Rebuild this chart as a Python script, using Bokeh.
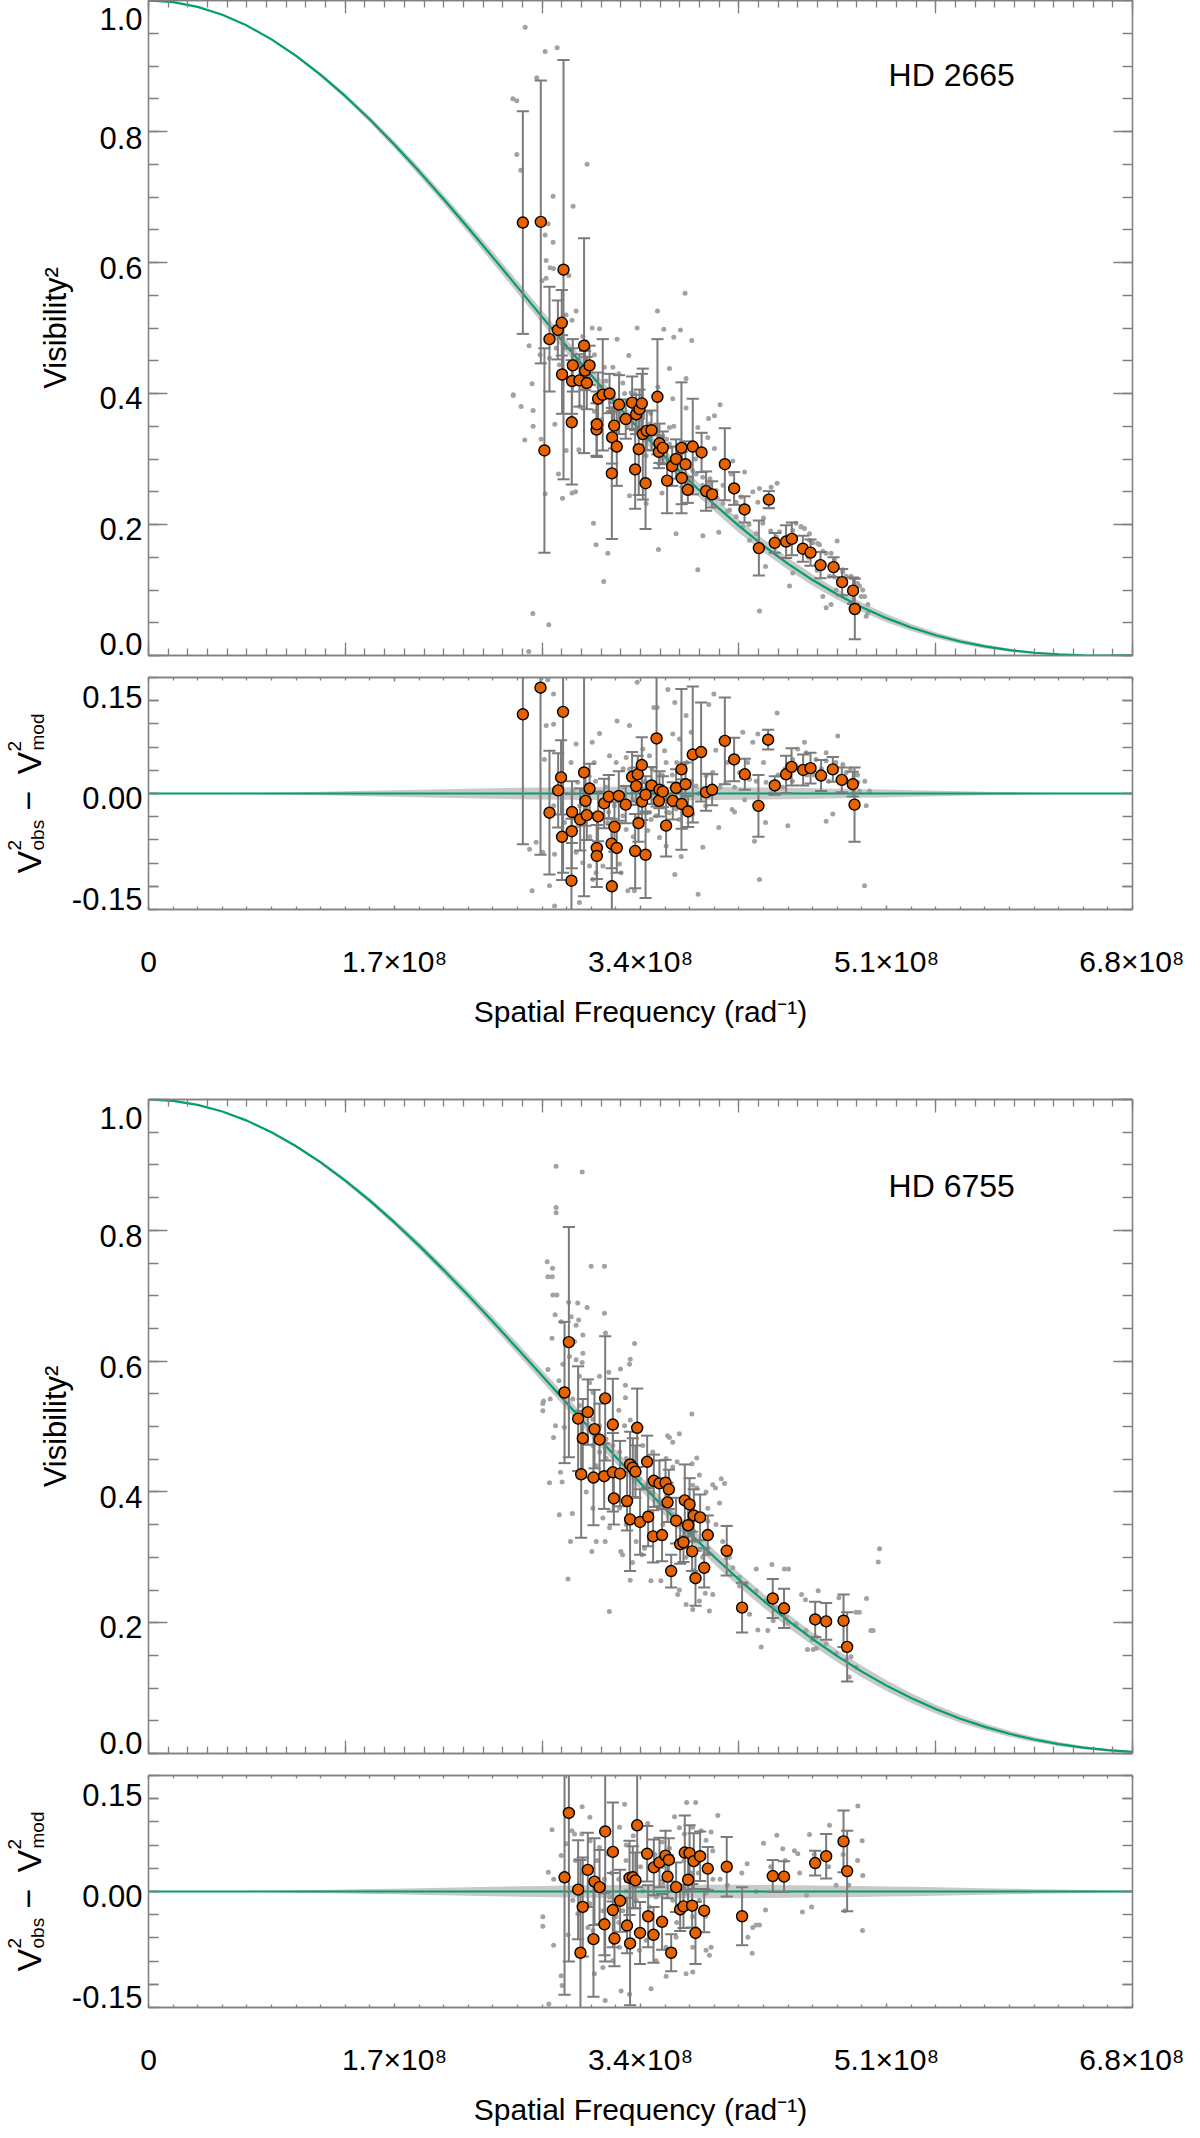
import math
from bokeh.plotting import figure
from bokeh.models import LinearAxis, FixedTicker, Range1d, Label
from bokeh.layouts import column, row
from bokeh.embed import file_html
from bokeh.resources import INLINE
from bokeh.core.properties import value

FONT = "Liberation Sans"
AXIS_GREY = "#808080"
ORANGE = "#E66100"
GREEN = "#009E73"
BAND_GREY = "#c9c9c9"
DOT_GREY = "#a2a2a2"
BAR_GREY = "#7b7b7b"

# ---------------- model curves (spatial frequency in units of 1e8 rad^-1) ----------------
SF_GRID = [0.0, 0.17, 0.34, 0.51, 0.68, 0.85, 1.02, 1.19, 1.36, 1.53, 1.70, 1.87, 2.04, 2.21,
           2.38, 2.55, 2.72, 2.89, 3.06, 3.23, 3.40, 3.57, 3.74, 3.91, 4.08, 4.25, 4.42, 4.59,
           4.76, 4.93, 5.10, 5.27, 5.44, 5.61, 5.78, 5.95, 6.12, 6.29, 6.46, 6.63, 6.80]

hd2665_model = [1.0, .99757, .99030, .97828, .96166, .94064, .91547, .88645, .85391, .81824,
                .77984, .73914, .69659, .65265, .60777, .56242, .51703, .47204, .42784, .38481,
                .34329, .30359, .26597, .23064, .19779, .16755, .14000, .11519, .09312, .07376,
                .05702, .04281, .03100, .02142, .01388, .00821, .00420, .00164, .00031, .00001,
                .00050]
hd2665_model_err = [0.0, .00007, .00026, .00058, .00102, .00156, .00220, .00291, .00368, .00450,
                    .00534, .00618, .00701, .00779, .00853, .00919, .00976, .01023, .01060, .01084,
                    .01096, .01096, .01083, .01059, .01022, .00975, .00919, .00854, .00783, .00707,
                    .00627, .00544, .00462, .00382, .00303, .00229, .00160, .00097, .00042, .00004,
                    .00007]

hd6755_model = [1.0, .99796, .99184, .98172, .96770, .94992, .92856, .90383, .87597, .84527,
                .81201, .77653, .73914, .70019, .66005, .61906, .57756, .53592, .49446, .45350,
                .41335, .37428, .33655, .30038, .26597, .23350, .20309, .17486, .14888, .12519,
                .10380, .08473, .06789, .05324, .04068, .03012, .02141, .01444, .00904, .00506,
                .00234]
hd6755_model_err = [0.0, .00006, .00022, .00049, .00086, .00132, .00187, .00249, .00316, .00389,
                    .00464, .00541, .00618, .00694, .00767, .00835, .00898, .00954, .01001, .01040,
                    .01069, .01089, .01098, .01096, .01083, .01061, .01029, .00988, .00939, .00882,
                    .00819, .00751, .00680, .00606, .00531, .00455, .00381, .00309, .00241, .00176,
                    .00119]

# ---------------- HD 2665 : binned points ----------------
hd2665_freq = [2.587, 2.711, 2.736, 2.771, 2.829, 2.856, 2.858, 2.868, 2.925, 2.927,
               2.932, 2.978, 3.010, 3.017, 3.029, 3.048, 3.096, 3.098, 3.107, 3.139,
               3.186, 3.202, 3.204, 3.218, 3.236, 3.252, 3.298, 3.342, 3.363, 3.370,
               3.388, 3.393, 3.409, 3.416, 3.435, 3.443, 3.476, 3.517, 3.527, 3.531,
               3.554, 3.584, 3.619, 3.646, 3.683, 3.685, 3.711, 3.727, 3.761, 3.822,
               3.853, 3.895, 3.983, 4.047, 4.119, 4.218, 4.287, 4.328, 4.406, 4.446,
               4.522, 4.575, 4.644, 4.734, 4.793, 4.869, 4.881]
hd2665_v2 = [.661, .662, .313, .483, .497, .508, .429, .589, .356, .419,
             .443, .420, .473, .435, .416, .443, .345, .353, .392, .398,
             .400, .278, .333, .351, .319, .383, .361, .386, .284, .368,
             .315, .376, .385, .338, .263, .343, .344, .395, .311, .324,
             .317, .267, .289, .300, .317, .271, .292, .253, .319, .310,
             .251, .246, .292, .255, .223, .164, .238, .172, .174, .178,
             .163, .157, .138, .135, .112, .099, .071]
hd2665_err = [.170, .216, .156, .080, .045, .050, .060, .320, .095, .050,
              .040, .040, .164, .030, .040, .030, .040, .050, .040, .085,
              .030, .100, .040, .035, .060, .045, .030, .040, .060, .030,
              .070, .030, .045, .100, .070, .030, .030, .088, .025, .030,
              .025, .050, .030, .030, .100, .040, .035, .020, .073, .030,
              .030, .020, .055, .025, .020, .042, .013, .015, .025, .025,
              .020, .020, .020, .015, .020, .020, .046]

hd2665_res_freq = [2.587, 2.709, 2.771, 2.831, 2.851, 2.858, 2.865, 2.923, 2.925, 2.927,
                   2.983, 3.010, 3.020, 3.029, 3.048, 3.098, 3.098, 3.107, 3.149, 3.181,
                   3.200, 3.202, 3.220, 3.236, 3.250, 3.298, 3.342, 3.363, 3.370, 3.381,
                   3.386, 3.409, 3.411, 3.435, 3.435, 3.476, 3.511, 3.527, 3.531, 3.554,
                   3.577, 3.623, 3.646, 3.683, 3.685, 3.711, 3.729, 3.761, 3.819, 3.853,
                   3.895, 3.983, 4.047, 4.121, 4.215, 4.282, 4.328, 4.406, 4.444, 4.524,
                   4.575, 4.648, 4.729, 4.791, 4.867, 4.879]
hd2665_res = [.128, .171, -.031, .005, .026, -.070, .132, -.141, -.061, -.030,
              -.042, .034, -.012, -.035, .008, -.088, -.101, -.037, -.016, -.005,
              -.081, -.150, -.054, -.088, -.004, -.018, .027, -.093, .012, .031,
              -.048, .046, -.013, -.002, -.099, .013, .089, -.012, .006, .003,
              -.052, -.012, .009, .039, -.017, .015, -.029, .063, .067, .002,
              .006, .085, .055, .031, -.020, .087, .013, .031, .043, .038,
              .041, .029, .039, .022, .015, -.018]
hd2665_res_err = [.21, .27, .10, .06, .06, .07, .26, .10, .06, .05,
                  .05, .20, .04, .04, .04, .05, .05, .04, .04, .035,
                  .04, .10, .04, .04, .04, .03, .04, .06, .03, .03,
                  .03, .045, .03, .03, .07, .03, .11, .025, .03, .025,
                  .05, .03, .03, .13, .04, .035, .025, .11, .08, .03,
                  .025, .07, .035, .025, .05, .016, .015, .03, .03, .025,
                  .025, .025, .02, .02, .02, .06]

# ---------------- HD 2665 : individual channels (grey dots) ----------------
hd2665_raw_freq = [2.603, 2.741, 2.824, 2.683, 2.518, 2.545, 2.545, 2.573, 3.031, 2.796,
                   2.934, 2.762, 2.741, 2.796, 2.748, 2.775, 2.799, 2.748, 2.720, 2.905,
                   3.708, 2.955, 3.517, 3.676, 3.561, 3.630, 3.754, 3.377, 3.238, 3.066,
                   3.117, 2.630, 3.319, 3.600, 3.715, 3.950, 3.911, 3.870, 3.911, 3.209,
                   3.278, 3.623, 3.600, 3.715, 2.651, 2.520, 2.575, 2.658, 2.658, 2.600,
                   2.713, 2.808, 2.886, 2.974, 2.833, 2.927, 2.951, 2.861, 2.741, 3.324,
                   3.439, 3.549, 2.771, 2.817, 2.706, 2.840, 2.886, 2.927, 3.001, 3.024,
                   3.082, 3.082, 3.070, 3.162, 3.186, 3.335, 3.416, 3.473, 3.439, 3.589,
                   3.761, 3.796, 3.865, 4.038, 4.061, 4.119, 4.344, 4.303, 4.222, 4.026,
                   3.941, 3.831, 3.796, 3.646, 3.524, 4.510, 4.533, 4.759, 4.717, 4.660,
                   4.591, 4.452, 4.430, 4.683, 4.717, 4.960, 4.971, 4.936, 4.925, 4.222,
                   4.264, 4.337, 4.361, 4.798, 4.821, 4.855, 4.061, 4.095, 4.176, 4.211,
                   4.475, 4.568, 4.637, 2.656, 2.766, 2.628, 3.093, 3.174, 3.146, 3.075,
                   2.521, 3.05, 3.12, 3.15, 3.22, 3.27, 3.31, 3.36, 3.40, 3.45,
                   3.50, 3.55, 3.58, 3.66, 3.69, 3.74, 3.78, 3.83, 3.88, 3.93,
                   3.97, 2.88, 2.96, 3.00, 2.98, 3.13, 3.25, 3.29, 3.47, 3.52,
                   3.63, 4.15, 4.25, 4.40, 4.56, 4.62, 4.74, 4.85, 4.90, 4.30,
                   4.00,
                   4.337, 4.452, 4.510, 4.568, 4.625, 4.683, 4.741, 4.798, 4.855, 4.913,
                   4.948, 4.971, 4.706, 4.752, 4.660, 4.245, 4.199, 4.153, 4.107, 4.061,
                   4.015, 3.969, 3.923, 3.877, 3.830, 3.784, 3.739, 3.692, 3.646, 3.600,
                   3.554, 3.508, 3.462, 3.416]
hd2665_raw_v2 = [.959, .922, .928, .882, .850, .847, .765, .741, .750, .701,
                 .686, .659, .642, .631, .603, .592, .591, .576, .572, .580,
                 .553, .526, .526, .497, .498, .486, .481, .500, .483, .500,
                 .499, .473, .458, .438, .423, .383, .366, .362, .316, .440,
                 .416, .392, .348, .378, .415, .397, .380, .374, .350, .329,
                 .330, .353, .313, .314, .277, .248, .250, .240, .247, .244,
                 .232, .248, .454, .469, .459, .444, .520, .512, .487, .479,
                 .459, .373, .356, .419, .398, .401, .368, .338, .305, .300,
                 .282, .348, .333, .297, .257, .280, .263, .257, .255, .277,
                 .188, .183, .131, .186, .162, .196, .194, .175, .156, .159,
                 .172, .126, .106, .073, .078, .060, .078, .100, .090, .068,
                 .136, .181, .189, .128, .121, .103, .234, .242, .250, .234,
                 .202, .176, .169, .064, .047, .006, .169, .156, .113, .202,
                 .398, .43, .41, .44, .39, .37, .35, .40, .36, .33,
                 .35, .30, .33, .28, .31, .27, .30, .26, .27, .24,
                 .26, .47, .45, .41, .38, .36, .43, .40, .37, .41,
                 .35, .20, .21, .17, .15, .13, .12, .08, .11, .19,
                 .22,
                 .181, .191, .197, .186, .171, .156, .146, .131, .121, .106,
                 .090, .065, .121, .100, .090, .202, .186, .176, .197, .212,
                 .222, .232, .252, .262, .272, .277, .287, .297, .303, .323,
                 .333, .343, .353, .363]

hd2665_rawres_freq = [2.759, 2.799, 2.748, 2.799, 2.736, 2.955, 3.066, 3.117, 3.238, 3.324,
                      3.377, 3.492, 3.515, 3.589, 3.637, 3.623, 3.715, 3.872, 3.907, 4.107,
                      4.176, 4.211, 4.344, 4.763, 4.533, 4.487, 4.683, 4.798, 4.983, 4.960,
                      4.729, 4.683, 4.418, 4.264, 4.188, 4.222, 4.948, 4.033, 3.941, 3.831,
                      3.798, 3.681, 3.637, 3.531, 3.577, 3.358, 3.312, 3.255, 3.266, 3.048,
                      3.070, 2.978, 2.806, 2.651, 2.771, 2.633, 2.725, 2.679, 2.806, 2.875,
                      2.944, 2.967, 2.932, 2.967, 3.070, 3.117, 3.140, 3.174, 3.278, 3.301,
                      3.439, 3.473, 3.508, 3.600, 3.646, 3.669, 3.761, 3.784, 3.853, 3.899,
                      3.991, 4.084, 4.153, 4.268, 4.383, 4.452, 4.544, 4.613, 4.683, 4.821,
                      4.902, 4.913, 3.186, 3.232, 3.301, 3.324, 3.416, 3.462, 3.566, 3.577,
                      3.669, 3.750, 2.955, 3.001, 3.093, 3.140, 3.02, 3.09, 3.16, 3.22,
                      3.28, 3.36, 3.43, 3.50, 3.56, 3.62, 3.70, 3.80, 3.85, 3.95,
                      4.00, 4.25, 4.40, 4.60, 4.80, 4.90, 2.85, 2.90, 2.80, 3.05,
                      3.20, 3.35, 3.45, 3.55, 3.72, 3.92,
                      4.05, 4.12, 4.20, 4.30, 4.35, 4.45, 4.50, 4.55, 4.65, 4.70,
                      4.75, 4.85, 4.95, 4.05, 4.14, 3.75, 3.65, 3.58, 3.48, 3.38,
                      3.28, 3.18, 3.08, 2.98, 2.92]
hd2665_rawres = [.184, .161, .110, .112, .055, .080, .083, .097, .117, .110,
                 .180, .139, .139, .168, .147, .096, .126, .144, .161, .099,
                 .083, .096, .130, .093, .083, .072, .053, .047, .004, -.020,
                 -.033, -.045, -.052, -.047, -.077, -.139, -.149, -.026, -.055, -.087,
                 -.163, -.102, -.131, -.071, -.085, -.157, -.157, -.114, -.128, -.117,
                 -.139, -.176, -.182, -.157, -.149, -.090, -.095, -.079, -.098, -.047,
                 -.031, -.052, .004, .018, .012, .002, -.036, -.047, -.036, -.058,
                 -.031, -.042, -.036, -.031, -.025, -.042, -.033, .012, .029, .034,
                 .018, .034, .023, .018, .010, .055, .066, .055, .066, .034,
                 .018, .004, .061, .050, .058, .039, .072, .061, .069, .050,
                 .088, .099, -.095, -.112, -.128, -.117, -.01, .02, .01, -.02,
                 .01, -.01, .02, .00, -.01, .03, -.01, .00, -.02, .01,
                 .05, .05, .04, .03, .02, .03, .03, -.06, -.02, -.07,
                 -.09, -.07, -.06, .03, .05, .07,
                 .01, -.01, .02, .00, .03, .02, .04, .03, .04, .02,
                 .05, .04, .02, -.03, .05, .02, .05, -.03, .04, -.04,
                 .04, -.03, .05, -.02, .05]

# ---------------- HD 6755 : binned points ----------------
hd6755_freq = [2.875, 2.905, 2.969, 2.990, 3.001, 3.036, 3.075, 3.082, 3.117, 3.149,
               3.156, 3.209, 3.209, 3.216, 3.259, 3.307, 3.328, 3.328, 3.347, 3.365,
               3.377, 3.397, 3.446, 3.453, 3.487, 3.492, 3.531, 3.549, 3.573, 3.587,
               3.596, 3.612, 3.646, 3.674, 3.697, 3.706, 3.729, 3.739, 3.757, 3.768,
               3.780, 3.812, 3.840, 3.865, 3.996, 4.102, 4.314, 4.392, 4.607, 4.683,
               4.803, 4.828]
hd6755_v2 = [.552, .629, .512, .427, .482, .522, .422, .496, .480, .424,
             .543, .430, .503, .390, .428, .386, .442, .358, .437, .431,
             .498, .354, .446, .362, .332, .417, .413, .334, .414, .384,
             .404, .279, .356, .320, .323, .387, .349, .381, .309, .364,
             .268, .361, .284, .334, .310, .223, .237, .222, .205, .202,
             .203, .163]
hd6755_err = [.108, .176, .080, .097, .060, .050, .073, .060, .055, .050,
              .095, .060, .070, .040, .050, .045, .050, .079, .045, .040,
              .060, .050, .040, .045, .040, .040, .035, .040, .035, .030,
              .030, .025, .035, .030, .030, .055, .035, .040, .030, .040,
              .042, .035, .030, .030, .038, .038, .030, .030, .027, .028,
              .040, .053]

hd6755_res_freq = [2.875, 2.905, 2.969, 2.985, 3.001, 3.036, 3.075, 3.082, 3.117, 3.151,
                   3.156, 3.209, 3.209, 3.220, 3.259, 3.307, 3.324, 3.328, 3.347, 3.365,
                   3.377, 3.397, 3.446, 3.453, 3.490, 3.492, 3.531, 3.549, 3.573, 3.587,
                   3.596, 3.612, 3.646, 3.674, 3.697, 3.706, 3.729, 3.739, 3.757, 3.768,
                   3.780, 3.812, 3.840, 3.865, 3.996, 4.102, 4.314, 4.392, 4.607, 4.683,
                   4.803, 4.828]
hd6755_res = [.023, .127, .003, -.099, -.025, .035, -.077, .016, .007, -.053,
              .097, -.030, .064, -.076, -.015, -.055, .022, -.084, .023, .018,
              .107, -.067, .061, -.040, -.070, .039, .047, -.049, .058, .024,
              .051, -.099, .007, -.029, -.024, .063, .019, .062, -.023, .049,
              -.067, .057, -.031, .037, .040, -.040, .025, .024, .046, .057,
              .081, .033]
hd6755_res_err = [.19, .24, .08, .15, .08, .06, .093, .07, .06, .05,
                  .21, .06, .08, .045, .05, .045, .06, .10, .05, .045,
                  .10, .05, .045, .05, .045, .045, .04, .045, .04, .035,
                  .035, .03, .04, .035, .035, .06, .04, .045, .035, .045,
                  .05, .04, .035, .035, .048, .047, .026, .025, .02, .036,
                  .05, .065]

# ---------------- HD 6755 : individual channels (grey dots) ----------------
hd6755_raw_freq = [2.817, 2.997, 2.817, 2.817, 2.755, 2.792, 2.760, 2.790, 3.059, 3.151,
                   2.794, 2.822, 2.904, 2.966, 3.031, 3.151, 2.810, 2.852, 2.921, 2.788,
                   3.002, 3.002, 2.997, 2.944, 2.955, 2.973, 3.359, 3.329, 3.324, 3.262,
                   3.181, 3.158, 2.760, 2.836, 2.725, 2.725, 3.296, 3.296, 3.250, 3.329,
                   3.290, 2.813, 2.799, 2.874, 3.755, 3.587, 3.669, 3.600, 3.789, 3.757,
                   3.653, 3.623, 2.847, 2.771, 2.858, 2.839, 2.929, 2.916, 2.899, 3.064,
                   3.156, 3.094, 3.185, 3.264, 3.276, 3.329, 3.345, 3.410, 3.472, 3.541,
                   3.657, 3.669, 3.715, 3.761, 3.807, 3.848, 3.899, 3.876, 3.958, 3.981,
                   3.946, 3.918, 3.865, 3.865, 3.761, 3.789, 4.085, 4.200, 4.308, 4.395,
                   4.423, 4.154, 4.211, 4.280, 4.234, 4.317, 4.421, 4.513, 4.540, 4.628,
                   4.771, 4.962, 4.586, 4.554, 4.593, 4.616, 4.809, 4.855, 4.843, 4.992,
                   5.008, 5.052, 5.043, 4.889, 4.912, 2.730, 2.776, 2.833, 2.909, 2.955,
                   2.863, 2.978, 3.048, 3.071, 3.117, 3.071, 3.117, 3.163, 3.094, 3.025,
                   3.071, 3.140, 3.186, 3.255, 3.301, 3.370, 3.428, 3.416, 3.485, 3.577,
                   3.623, 3.462, 3.531, 3.600, 3.554, 3.669, 3.715, 3.761, 3.830, 3.807,
                   3.899, 3.853, 3.922, 3.968, 4.014,
                   3.992, 4.038, 4.084, 4.130, 4.199, 4.268, 4.337, 4.406, 4.475, 4.544,
                   4.614, 4.683, 4.752, 4.821, 4.890, 3.761, 3.808, 3.853, 3.670, 3.623,
                   3.577, 3.485, 3.439, 3.393, 3.347, 3.301, 3.255, 3.209, 3.162, 3.117,
                   3.070, 3.024, 2.978, 2.932]
hd6755_raw_v2 = [.898, .889, .835, .827, .752, .742, .729, .729, .745, .745,
                 .701, .701, .690, .689, .682, .673, .671, .660, .668, .635,
                 .640, .612, .598, .630, .655, .663, .627, .603, .595, .588,
                 .583, .643, .587, .570, .535, .524, .563, .544, .525, .510,
                 .501, .501, .483, .499, .519, .486, .489, .483, .452, .443,
                 .446, .438, .430, .414, .415, .365, .367, .324, .267, .309,
                 .324, .324, .217, .309, .304, .265, .292, .304, .264, .264,
                 .243, .250, .228, .220, .233, .245, .243, .218, .420, .413,
                 .383, .406, .375, .355, .410, .406, .256, .282, .289, .282,
                 .282, .213, .189, .188, .163, .203, .200, .243, .235, .249,
                 .238, .237, .174, .159, .159, .161, .158, .148, .117, .188,
                 .188, .313, .293, .216, .216, .539, .542, .552, .607, .602,
                 .595, .577, .567, .552, .577, .471, .461, .451, .440, .400,
                 .375, .360, .345, .375, .350, .324, .314, .471, .461, .451,
                 .476, .400, .385, .370, .350, .320, .300, .280, .300, .426,
                 .411, .400, .350, .324, .300,
                 .299, .284, .269, .259, .249, .234, .223, .208, .198, .188,
                 .178, .168, .153, .143, .132, .340, .324, .309, .350, .365,
                 .380, .400, .410, .420, .431, .451, .461, .471, .481, .501,
                 .511, .522, .532, .542]

hd6755_rawres_freq = [2.997, 3.290, 3.781, 3.719, 2.789, 2.927, 2.994, 3.052, 3.255, 3.301,
                      3.174, 3.117, 3.635, 3.669, 3.704, 3.761, 3.819, 3.888, 3.934, 3.853,
                      3.899, 4.137, 4.250, 4.342, 4.383, 4.464, 4.487, 4.568, 4.706, 4.902,
                      4.932, 4.752, 4.839, 4.936, 4.547, 4.519, 4.582, 4.812, 4.934, 4.264,
                      4.176, 4.199, 4.222, 4.142, 4.172, 3.876, 3.853, 3.888, 3.715, 3.761,
                      3.577, 3.508, 3.473, 3.324, 3.266, 3.156, 3.082, 2.852, 2.858, 2.799,
                      2.725, 2.725, 2.767, 2.763, 2.852, 2.886, 2.944, 2.932, 2.967, 3.036,
                      3.071, 3.140, 3.186, 3.232, 3.278, 3.301, 3.370, 3.416, 3.462, 3.508,
                      3.554, 3.623, 3.669, 3.715, 3.761, 3.807, 3.853, 3.393, 3.439, 3.577,
                      3.646, 3.761, 3.209, 3.255, 3.140, 3.00, 3.10, 3.20, 3.30, 3.40,
                      3.50, 3.60, 3.70, 3.80, 3.90, 3.05, 3.35, 3.45, 3.55, 3.25,
                      3.60,
                      4.00, 4.10, 4.20, 4.30, 4.40, 4.50, 4.60, 4.70, 4.80, 4.90,
                      3.05, 3.15, 3.25, 3.35, 3.45, 3.55, 3.65, 3.75, 3.85, 3.95,
                      2.95, 2.90, 2.80]
hd6755_rawres = [.137, .141, .144, .144, .100, .098, .093, .082, .104, .075,
                 .061, .071, .121, .103, .093, .104, .098, .096, .123, .083,
                 .066, .045, .078, .091, .069, .066, .061, .092, .107, .138,
                 .082, .010, .010, .026, -.006, -.033, -.025, -.031, -.063, -.030,
                 -.058, -.054, -.054, -.074, -.100, -.103, -.095, -.090, -.133, -.130,
                 -.137, -.112, -.157, -.166, -.161, -.176, -.133, -.136, -.152, -.087,
                 -.041, -.056, -.182, .031, .058, .077, .093, -.014, -.036, -.058,
                 -.063, -.031, -.009, -.041, -.031, .001, -.014, .001, -.025, -.009,
                 .012, -.014, -.031, -.003, -.041, -.014, -.003, -.095, -.079, -.090,
                 -.074, -.090, -.112, -.090, -.123, .03, .05, .03, .05, .04,
                 .06, .03, .05, .03, .02, .12, .09, .11, .08, .02,
                 .07,
                 .01, .03, .00, .04, .05, .03, .06, .04, .06, .05,
                 -.02, .02, -.05, .03, -.04, .04, -.05, .03, -.04, .02,
                 .05, -.07, .02]

# ---------------- axes / ticks ----------------
X_START, X_END = 0.0, 6.8
TOP_MAJOR_X = [0.0, 1.36, 2.72, 4.08, 5.44, 6.8]
TOP_MINOR_X = [round(i * 0.136, 4) for i in range(51)]
RES_MAJOR_X = [0.0, 1.7, 3.4, 5.1, 6.8]
RES_MINOR_X = [round(i * 0.17, 4) for i in range(41)]
X_TICK_TEXT = ["0", "1.7×10⁸", "3.4×10⁸", "5.1×10⁸", "6.8×10⁸"]
TOP_MAJOR_Y = [0.0, 0.2, 0.4, 0.6, 0.8, 1.0]
TOP_MINOR_Y = [round(i * 0.05, 3) for i in range(21)]
TOP_LABEL_POS = [0.0168, 0.1928, 0.3924, 0.5916, 0.7908, 0.9715]
TOP_LABEL_TEXT = ["0.0", "0.2", "0.4", "0.6", "0.8", "1.0"]
RES_LIMIT = 0.1875
RES_FRAME_H = 232
RES_MAJOR_Y = [-0.15, 0.0, 0.15]
RES_MINOR_Y = [round(-0.1875 + i * 0.0375, 4) for i in range(11)]
RES_LABEL_POS = [-0.1699, -0.0065, 0.1561]
RES_LABEL_TEXT = ["-0.15", "0.00", "0.15"]
CAP_HALF = 0.042

STAR_LABEL_X = 5.114
TITLE_W = 50
# residual-panel title pieces: text, x of baseline (px in title strip),
# start above the frame bottom (px), font size
RES_TITLE_PIECES = [("V", 28, 36, "34px"), ("2", 14, 59, "19px"), ("obs", 37, 59, "19px"),
                    ("−", 28, 99, "34px"), ("V", 28, 135, "34px"), ("2", 14, 158, "19px"),
                    ("mod", 37, 159, "19px")]


def base_fig(frame_h, y0, y1, top, bottom, left=148):
    p = figure(frame_width=984, frame_height=frame_h,
               x_range=Range1d(X_START, X_END), y_range=Range1d(y0, y1),
               x_axis_location=None, y_axis_location=None,
               output_backend="svg", toolbar_location=None,
               min_border_left=left, min_border_right=52,
               min_border_top=top, min_border_bottom=bottom,
               background_fill_color="white", border_fill_color="white")
    p.grid.visible = False
    p.outline_line_color = AXIS_GREY
    p.outline_line_width = 1.3
    return p


def style_ticks(ax, tin, tmin):
    ax.major_tick_in = tin
    ax.major_tick_out = 0
    ax.minor_tick_in = tmin
    ax.minor_tick_out = 0
    ax.major_tick_line_color = AXIS_GREY
    ax.minor_tick_line_color = AXIS_GREY
    ax.major_tick_line_width = 1.3
    ax.minor_tick_line_width = 1.3
    ax.axis_line_color = AXIS_GREY
    ax.axis_line_width = 1.3


def tick_axis(major, minor, tin, tmin):
    ax = LinearAxis(ticker=FixedTicker(ticks=major, minor_ticks=minor))
    style_ticks(ax, tin, tmin)
    ax.major_label_overrides = {t: "" for t in major}
    ax.major_label_text_font_size = "0px"
    ax.major_label_standoff = 0
    return ax


def label_axis(pos, texts, standoff, title=None):
    ax = LinearAxis(ticker=FixedTicker(ticks=pos, minor_ticks=[]))
    ax.major_label_overrides = dict(zip(pos, texts))
    ax.major_tick_in = 0
    ax.major_tick_out = 0
    ax.minor_tick_in = 0
    ax.minor_tick_out = 0
    ax.major_tick_line_color = None
    ax.minor_tick_line_color = None
    ax.axis_line_color = None
    ax.major_label_standoff = standoff
    ax.major_label_text_font = FONT
    ax.major_label_text_font_size = "31px"
    ax.major_label_text_color = "black"
    if title:
        ax.axis_label = title
        ax.axis_label_text_font = FONT
        ax.axis_label_text_font_size = "31px"
        ax.axis_label_text_font_style = "normal"
        ax.axis_label_text_color = "black"
        ax.axis_label_standoff = 23
    return ax


def paired(a, b):
    n = min(len(a), len(b))
    return list(a[:n]), list(b[:n])


def add_errbars(p, f, v, e):
    lo = [a - b for a, b in zip(v, e)]
    hi = [a + b for a, b in zip(v, e)]
    left = [x - CAP_HALF for x in f]
    right = [x + CAP_HALF for x in f]
    kw = dict(line_color=BAR_GREY, line_width=2)
    p.segment(x0=f, y0=lo, x1=f, y1=hi, **kw)
    p.segment(x0=left, y0=hi, x1=right, y1=hi, **kw)
    p.segment(x0=left, y0=lo, x1=right, y1=lo, **kw)


def top_panel(frame_h, border_top, freq, v2, err, raw_f, raw_v, model, model_err, star, star_y):
    p = base_fig(frame_h, 0.0, 1.0, border_top, 11)
    p.add_layout(tick_axis(TOP_MAJOR_X, TOP_MINOR_X, 13, 7), "below")
    p.add_layout(tick_axis(TOP_MAJOR_X, TOP_MINOR_X, 13, 7), "above")
    p.add_layout(tick_axis(TOP_MAJOR_Y, TOP_MINOR_Y, 19, 10), "left")
    p.add_layout(label_axis(TOP_LABEL_POS, TOP_LABEL_TEXT, 6, "Visibility²"), "left")
    p.add_layout(tick_axis(TOP_MAJOR_Y, TOP_MINOR_Y, 19, 10), "right")

    lo = [m - e for m, e in zip(model, model_err)]
    hi = [m + e for m, e in zip(model, model_err)]
    p.varea(x=SF_GRID, y1=lo, y2=hi, fill_color=BAND_GREY)
    rf, rv = paired(raw_f, raw_v)
    p.scatter(rf, rv, size=5, fill_color=DOT_GREY, line_color=None)
    p.line(SF_GRID, model, line_color=GREEN, line_width=2.2)
    add_errbars(p, freq, v2, err)
    p.scatter(freq, v2, size=11, fill_color=ORANGE, line_color="black", line_width=1.4)
    p.add_layout(Label(x=STAR_LABEL_X, y=star_y, text=star, text_font=FONT,
                       text_font_size="32px", text_color="black",
                       text_baseline="alphabetic", text_align="left"))
    return p


def residual_panel(border_bottom, freq, res, err, raw_f, raw_r, model_err):
    p = base_fig(RES_FRAME_H, -RES_LIMIT, RES_LIMIT, 11, border_bottom, left=148 - TITLE_W)
    xb = LinearAxis(ticker=FixedTicker(ticks=RES_MAJOR_X, minor_ticks=RES_MINOR_X))
    style_ticks(xb, 4, 3)
    xb.major_label_overrides = dict(zip(RES_MAJOR_X, X_TICK_TEXT))
    xb.major_label_standoff = 35
    xb.major_label_text_font = FONT
    xb.major_label_text_font_size = "30px"
    xb.major_label_text_color = "black"
    xb.axis_label = "Spatial Frequency (rad⁻¹)"
    xb.axis_label_text_font = FONT
    xb.axis_label_text_font_size = "30px"
    xb.axis_label_text_font_style = "normal"
    xb.axis_label_text_color = "black"
    xb.axis_label_standoff = 14
    p.add_layout(xb, "below")
    p.add_layout(tick_axis(RES_MAJOR_X, RES_MINOR_X, 4, 3), "above")
    p.add_layout(tick_axis(RES_MAJOR_Y, RES_MINOR_Y, 10, 10), "left")
    p.add_layout(label_axis(RES_LABEL_POS, RES_LABEL_TEXT, 6), "left")
    p.add_layout(tick_axis(RES_MAJOR_Y, RES_MINOR_Y, 10, 10), "right")

    p.varea(x=SF_GRID, y1=[-e for e in model_err], y2=list(model_err), fill_color=BAND_GREY)
    rf, rr = paired(raw_f, raw_r)
    p.scatter(rf, rr, size=5, fill_color=DOT_GREY, line_color=None)
    p.line(SF_GRID, [0.0 for _ in SF_GRID], line_color=GREEN, line_width=2.2)
    add_errbars(p, freq, res, err)
    p.scatter(freq, res, size=11, fill_color=ORANGE, line_color="black", line_width=1.4)
    return p


def residual_title(border_bottom):
    # narrow strip left of the residual panel holding the rotated y-axis title
    t = figure(frame_width=TITLE_W, frame_height=RES_FRAME_H,
               x_range=Range1d(0, TITLE_W), y_range=Range1d(0, RES_FRAME_H),
               x_axis_location=None, y_axis_location=None,
               output_backend="svg", toolbar_location=None,
               min_border_left=0, min_border_right=0,
               min_border_top=11, min_border_bottom=border_bottom,
               background_fill_color="white", border_fill_color="white")
    t.grid.visible = False
    t.outline_line_color = None
    for text, bx, sy, size in RES_TITLE_PIECES:
        t.text(x=[bx], y=[sy], text=[text], angle=math.pi / 2,
               text_font=value(FONT), text_font_size=value(size), text_color="black",
               text_baseline="alphabetic", text_align="left")
    return t


B1_BOTTOM = 119
B2_BOTTOM = 117

a1 = top_panel(655, 0, hd2665_freq, hd2665_v2, hd2665_err, hd2665_raw_freq, hd2665_raw_v2,
               hd2665_model, hd2665_model_err, "HD 2665", 0.886)
b1 = residual_panel(B1_BOTTOM, hd2665_res_freq, hd2665_res, hd2665_res_err,
                    hd2665_rawres_freq, hd2665_rawres, hd2665_model_err)
t1 = residual_title(B1_BOTTOM)
a2 = top_panel(654, 69, hd6755_freq, hd6755_v2, hd6755_err, hd6755_raw_freq, hd6755_raw_v2,
               hd6755_model, hd6755_model_err, "HD 6755", 0.868)
b2 = residual_panel(B2_BOTTOM, hd6755_res_freq, hd6755_res, hd6755_res_err,
                    hd6755_rawres_freq, hd6755_rawres, hd6755_model_err)
t2 = residual_title(B2_BOTTOM)

layout = column(a1, row(t1, b1, spacing=0), a2, row(t2, b2, spacing=0), spacing=0)

with open("out.html", "w", encoding="utf-8") as fh:
    fh.write(file_html(layout, INLINE, title="Visibility fits"))
